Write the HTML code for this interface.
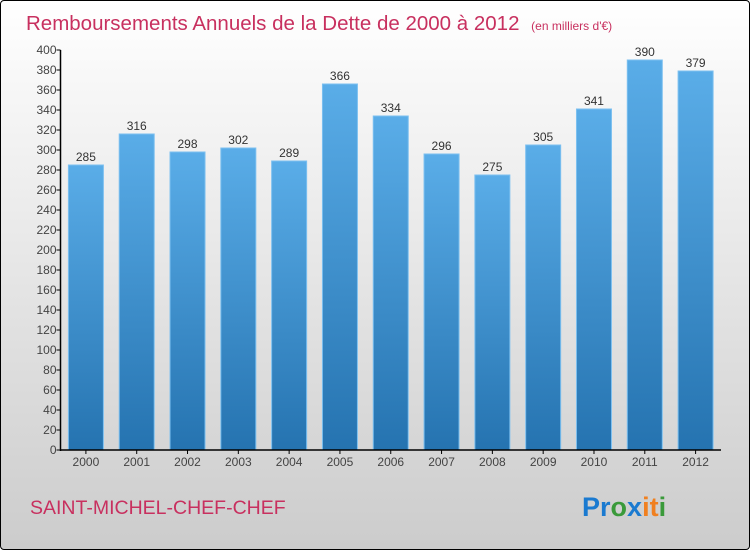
<!DOCTYPE html>
<html><head><meta charset="utf-8"><style>
body{margin:0;width:750px;height:550px;overflow:hidden;font-family:"Liberation Sans",sans-serif}
#frame{position:absolute;left:0;top:0;width:748px;height:548px;border:1px solid #000;border-radius:4px;background:linear-gradient(#fff,#ccc)}
</style></head><body>
<div id="frame"></div>
<svg width="750" height="550" style="position:absolute;left:0;top:0">
<defs><linearGradient id="bg" x1="0" y1="0" x2="0" y2="1"><stop offset="0" stop-color="#5aade8"/><stop offset="1" stop-color="#2573b0"/></linearGradient></defs>
<text x="26" y="30" font-size="20.5" fill="#c8305f">Remboursements Annuels de la Dette de 2000 à 2012 <tspan font-size="12" dx="6">(en milliers d'€)</tspan></text>
<g id="yaxis"></g>
<g id="bars"></g>
<g id="xaxis"></g>
<text x="30" y="514" font-size="19.5" fill="#c8305f">SAINT-MICHEL-CHEF-CHEF</text>
<text x="582" y="516" font-size="27" font-weight="bold"><tspan fill="#1a7ad0">Pr</tspan><tspan fill="#3a9a3a">o</tspan><tspan fill="#1a7ad0">x</tspan><tspan fill="#f08020">it</tspan><tspan fill="#3a9a3a">i</tspan></text>
</svg>
<script>
const categories=["2000","2001","2002","2003","2004","2005","2006","2007","2008","2009","2010","2011","2012"];
const values=[285,316,298,302,289,366,334,296,275,305,341,390,379];
const yTicks=[0,20,40,60,80,100,120,140,160,180,200,220,240,260,280,300,320,340,360,380,400];
const NS="http://www.w3.org/2000/svg";
const x0=60.5,x1=721,y0=450,y1=50,ymax=400;
const band=(x1-x0)/categories.length;
const y=v=>y0-(v/ymax)*(y0-y1);
const xc=i=>x0+band*(i+0.5);
function mk(t,a,p){const e=document.createElementNS(NS,t);for(const k in a)e.setAttribute(k,a[k]);p.appendChild(e);return e;}
const ya=document.getElementById('yaxis'),xa=document.getElementById('xaxis'),bg=document.getElementById('bars');
mk('line',{x1:x0,y1:y1,x2:x0,y2:y0+1,stroke:'#000','stroke-width':1.5},ya);
yTicks.forEach(t=>{
 const l=mk('line',{x1:x0-4,y1:y(t),x2:x0,y2:y(t),stroke:'#000'},ya);
 
 
 const tx=mk('text',{x:x0-4,y:y(t)+4,'font-size':12,fill:'#444','text-anchor':'end'},ya);
 tx.textContent=t;
 
 
});
mk('line',{x1:x0,y1:y0,x2:x1,y2:y0,stroke:'#000','stroke-width':1.5},xa);
categories.forEach((c,i)=>{
 const bw=35,v=values[i];
 const r=mk('rect',{x:xc(i)-bw/2,y:y(v),width:bw,height:y0-y(v),fill:'url(#bg)',stroke:'#7cc0f0','stroke-width':1},bg);
 
 
 const lv=mk('text',{x:xc(i),y:y(v)-4,'font-size':12,fill:'#333','text-anchor':'middle'},bg);
 lv.textContent=v;
 
 
 const tk=mk('line',{x1:xc(i),y1:y0,x2:xc(i),y2:y0+4,stroke:'#000'},xa);
 
 
 const lx=mk('text',{x:xc(i),y:y0+16,'font-size':12,fill:'#444','text-anchor':'middle'},xa);
 lx.textContent=c;
 
 
});
</script>
</body></html>
